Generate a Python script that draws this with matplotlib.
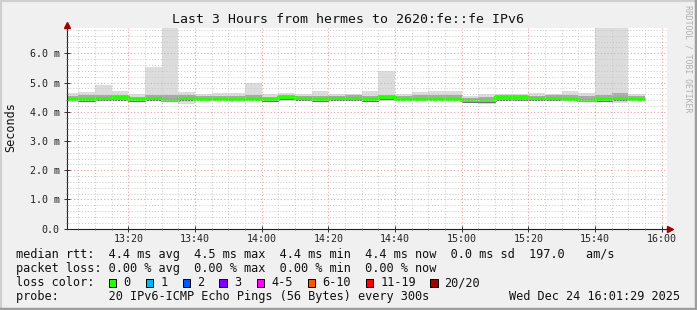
import matplotlib
matplotlib.use("Agg")
import matplotlib.pyplot as plt
import matplotlib.transforms as mtransforms
from matplotlib.lines import Line2D
from matplotlib.patches import Rectangle

# ---- data (5 minute bins) ----
bin_times = [
    "13:00", "13:05", "13:10", "13:15", "13:20", "13:25", "13:30", "13:35",
    "13:40", "13:45", "13:50", "13:55", "14:00", "14:05", "14:10", "14:15",
    "14:20", "14:25", "14:30", "14:35", "14:40", "14:45", "14:50", "14:55",
    "15:00", "15:05", "15:10", "15:15", "15:20", "15:25", "15:30", "15:35",
    "15:40", "15:45", "15:50",
]
# ms
rtt_max = [4.64, 4.68, 4.92, 4.72, 4.60, 5.54, 7.20, 4.68, 4.60, 4.64, 4.64, 5.00,
           4.60, 4.64, 4.60, 4.72, 4.62, 4.61, 4.72, 5.38, 4.61, 4.68, 4.72, 4.72,
           4.54, 4.60, 4.62, 4.62, 4.64, 4.62, 4.72, 4.64, 7.20, 7.20, 4.60]
rtt_hi = [4.55, 4.57, 4.57, 4.58, 4.52, 4.58, 4.58, 4.56, 4.54, 4.55, 4.54, 4.56,
          4.51, 4.58, 4.54, 4.55, 4.55, 4.56, 4.55, 4.58, 4.53, 4.56, 4.58, 4.57,
          4.47, 4.52, 4.57, 4.56, 4.55, 4.56, 4.56, 4.53, 4.56, 4.64, 4.55]
rtt_med = [4.44, 4.43, 4.46, 4.51, 4.43, 4.46, 4.42, 4.47, 4.45, 4.45, 4.44, 4.44,
           4.43, 4.50, 4.46, 4.44, 4.46, 4.46, 4.43, 4.51, 4.44, 4.45, 4.45, 4.44,
           4.40, 4.41, 4.50, 4.50, 4.47, 4.46, 4.45, 4.42, 4.43, 4.47, 4.45]
rtt_lo = [4.39, 4.38, 4.40, 4.42, 4.38, 4.40, 4.38, 4.39, 4.40, 4.40, 4.39, 4.39,
          4.38, 4.44, 4.40, 4.38, 4.40, 4.40, 4.38, 4.44, 4.40, 4.40, 4.39, 4.39,
          4.35, 4.34, 4.42, 4.42, 4.41, 4.41, 4.40, 4.37, 4.38, 4.40, 4.40]
rtt_min = [4.35, 4.36, 4.37, 4.37, 4.36, 4.37, 4.36, 4.27, 4.37, 4.37, 4.35, 4.37,
           4.36, 4.38, 4.37, 4.34, 4.36, 4.37, 4.36, 4.38, 4.37, 4.37, 4.36, 4.35,
           4.33, 4.27, 4.37, 4.37, 4.37, 4.37, 4.37, 4.35, 4.35, 4.31, 4.37]

x_ticks = ["13:20", "13:40", "14:00", "14:20", "14:40", "15:00", "15:20", "15:40", "16:00"]
y_ticks = [0.0, 1.0, 2.0, 3.0, 4.0, 5.0, 6.0]
y_labels = ["0.0", "1.0 m", "2.0 m", "3.0 m", "4.0 m", "5.0 m", "6.0 m"]

loss_labels = ["0", "1", "2", "3", "4-5", "6-10", "11-19", "20/20"]
loss_colors = ["#26ff00", "#00b8ff", "#0059ff", "#7e00ff", "#ff00ff",
               "#ff5500", "#ff0000", "#a10000"]

title = "Last 3 Hours from hermes to 2620:fe::fe IPv6"
line_rtt = "median rtt:  4.4 ms avg  4.5 ms max  4.4 ms min  4.4 ms now  0.0 ms sd  197.0   am/s"
line_loss = "packet loss: 0.00 % avg  0.00 % max  0.00 % min  0.00 % now"
line_probe = "probe:       20 IPv6-ICMP Echo Pings (56 Bytes) every 300s"
stamp = "Wed Dec 24 16:01:29 2025"

# window: 13:01:29 .. 16:01:29, minutes after 13:00
t_start, t_end = 1 + 29 / 60, 181 + 29 / 60


def minutes(hhmm):
    h, m = hhmm.split(":")
    return (int(h) - 13) * 60 + int(m)


W, H = 697, 310
MONO = "DejaVu Sans Mono"


def fx(px):
    return px / W


def fy(py):
    return 1 - py / H


edges = [minutes(t) for t in bin_times] + [minutes(bin_times[-1]) + 5]

fig = plt.figure(figsize=(W / 100, H / 100), dpi=100, facecolor="#f0f0f0")
left, right, top, bottom = 66.7, 666.7, 28.0, 228.7
ax = fig.add_axes([fx(left), fy(bottom), fx(right - left), (bottom - top) / H])
ax.set_facecolor("white")

ax.stairs(rtt_max, edges, baseline=rtt_min, fill=True, color="#dcdcdc", lw=0)
ax.stairs(rtt_hi, edges, baseline=rtt_lo, fill=True, color="#a9a9a9", lw=0)
ax.stairs(rtt_lo, edges, baseline=None, color="#707070", lw=0.8)
ax.stairs(rtt_med, edges, baseline=None, color="#26ff00", lw=2.2)

ax.set_xlim(t_start, t_end)
ax.set_ylim(0, (bottom - top) / 29.23)

ax.set_xticks([minutes(t) for t in x_ticks])
ax.set_xticklabels(x_ticks, fontfamily=MONO, fontsize=7.2, color="#222222")
ax.set_xticks([m for m in range(5, 185, 5)], minor=True)
ax.set_yticks(y_ticks)
ax.set_yticklabels(y_labels, fontfamily=MONO, fontsize=7.2, color="#222222")
ax.set_yticks([v / 5 for v in range(0, 35)], minor=True)

ax.grid(which="minor", color="#c8c8c8", linestyle=(0, (1, 2)), lw=0.7)
ax.grid(which="major", color="#f2a0a0", linestyle=(0, (1, 2)), lw=0.8)
ax.set_axisbelow(False)

for s in ["top", "right"]:
    ax.spines[s].set_visible(False)
for s in ["left", "bottom"]:
    ax.spines[s].set_color("#202020")
    ax.spines[s].set_linewidth(0.8)
ax.tick_params(which="major", direction="inout", length=4, width=0.7, color="#303030", pad=2)
ax.tick_params(which="minor", direction="inout", length=2, width=0.6, color="#606060")
ax.tick_params(axis="y", pad=3)

# axis arrows
up = mtransforms.offset_copy(ax.transAxes, fig=fig, x=0, y=3, units="dots")
ax.plot([0], [1], marker="^", ms=4.5, color="#a00000", transform=up, clip_on=False)
rt = mtransforms.offset_copy(ax.transAxes, fig=fig, x=3, y=0, units="dots")
ax.plot([1], [0], marker=">", ms=4.5, color="#a00000", transform=rt, clip_on=False)

fig.text(fx(347.8), fy(19.5), title, ha="center", va="center", fontfamily=MONO,
         fontsize=9.5, color="#111111")
fig.text(fx(11), fy(127.5), "Seconds", rotation=90, ha="center", va="center",
         fontfamily=MONO, fontsize=8.5, color="#111111")
fig.text(fx(688), fy(59), "RRDTOOL / TOBI OETIKER", rotation=270, ha="center",
         va="center", fontfamily=MONO, fontsize=5.9, color="#b0b0b0")

tx = 16.4
fs = 8.55
fig.text(fx(tx), fy(254.5), line_rtt, ha="left", va="center", fontfamily=MONO, fontsize=fs, color="#111111")
fig.text(fx(tx), fy(268.5), line_loss, ha="left", va="center", fontfamily=MONO, fontsize=fs, color="#111111")
fig.text(fx(tx), fy(282.5), "loss color:", ha="left", va="center", fontfamily=MONO, fontsize=fs, color="#111111")
fig.text(fx(tx), fy(296.5), line_probe, ha="left", va="center", fontfamily=MONO, fontsize=fs, color="#111111")
fig.text(fx(680), fy(296.5), stamp, ha="right", va="center", fontfamily=MONO, fontsize=fs, color="#111111")

box_x = [108.7, 145.7, 182.7, 219.3, 256.7, 307.7, 365.7, 430.0]
for bx, lab, col in zip(box_x, loss_labels, loss_colors):
    fig.add_artist(Rectangle((fx(bx), fy(286.5)), 7.5 / W, 8 / H, transform=fig.transFigure,
                             facecolor=col, edgecolor="black", lw=0.7))
    fig.text(fx(bx + 14.5), fy(282.5), lab, ha="left", va="center", fontfamily=MONO,
             fontsize=fs, color="#111111")

# 3d frame
fig.add_artist(Line2D([0, 1], [fy(0.5), fy(0.5)], color="#cfcfcf", lw=1.5, transform=fig.transFigure))
fig.add_artist(Line2D([fx(0.5), fx(0.5)], [0, 1], color="#cfcfcf", lw=1.5, transform=fig.transFigure))
fig.add_artist(Line2D([0, 1], [fy(H - 1), fy(H - 1)], color="#9e9e9e", lw=2.5, transform=fig.transFigure))
fig.add_artist(Line2D([fx(W - 1), fx(W - 1)], [0, 1], color="#9e9e9e", lw=2.5, transform=fig.transFigure))

fig.savefig("out.png", dpi=100, facecolor=fig.get_facecolor())
